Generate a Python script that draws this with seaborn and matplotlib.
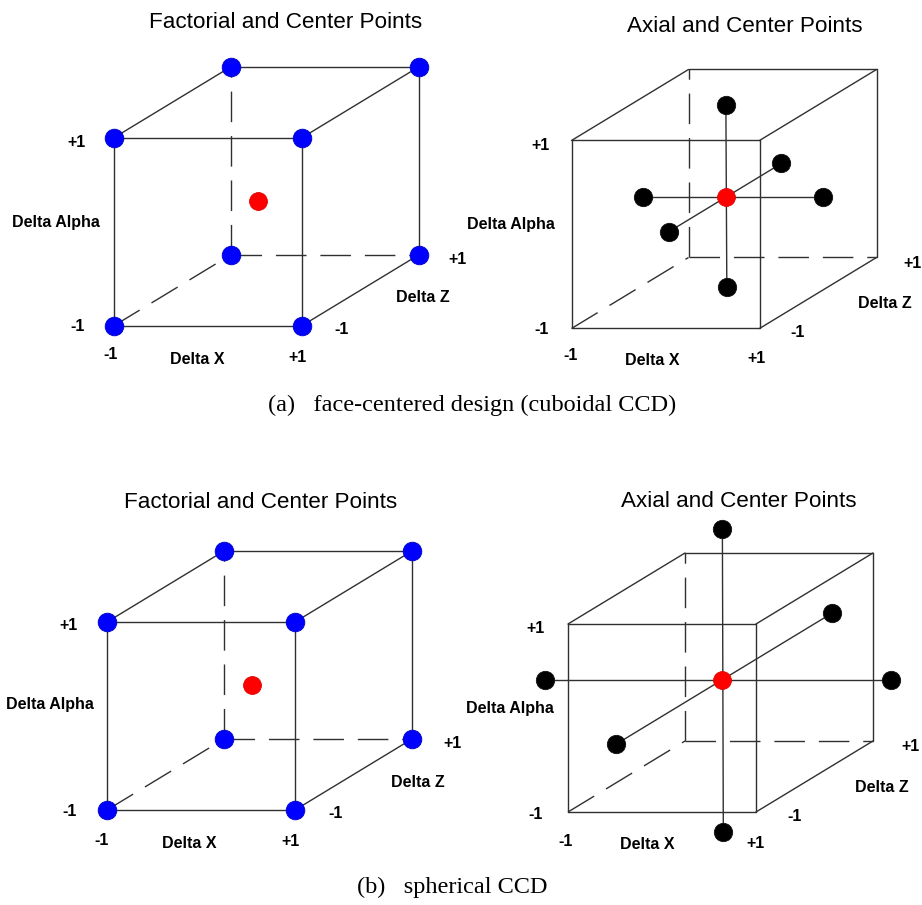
import numpy as np
import pandas as pd
import matplotlib
matplotlib.use("Agg")
import matplotlib.pyplot as plt
import seaborn as sns

# ---------------- data (coded units) ----------------
# cube corners (Delta X, Delta Alpha, Delta Z)
corner_x = [-1, 1, -1, 1, -1, 1, -1, 1]
corner_y = [-1, -1, 1, 1, -1, -1, 1, 1]
corner_z = [-1, -1, -1, -1, 1, 1, 1, 1]

# center point of factorial panels (as drawn)
fact_center_x = [-0.08]
fact_center_y = [-0.05]
fact_center_z = [0.0]

# (a) face-centered: axial points  [-x, +x, +alpha, -alpha, +z, -z]
axial_a_x = [-0.86, 1.05, 0.02, 0.03, 0.02, 0.02]
axial_a_y = [0.02, 0.02, 1.00, -0.94, 0.02, 0.02]
axial_a_z = [0.0, 0.0, 0.0, 0.0, 0.95, -0.97]
center_a = [0.02, 0.02, 0.0]

# (b) spherical: axial points  [-x, +x, +alpha, -alpha, +z, -z]
axial_b_x = [-1.87, 1.81, 0.02, 0.03, 0.02, 0.02]
axial_b_y = [0.03, 0.03, 1.63, -1.59, 0.03, 0.03]
axial_b_z = [0.0, 0.0, 0.0, 0.0, 1.88, -1.81]
center_b = [0.02, 0.03, 0.0]

titles = ["Factorial and Center Points", "Axial and Center Points"]
captions = ["(a)   face-centered design (cuboidal CCD)", "(b)   spherical CCD"]

# ---------------- style / layout ----------------
W, H, DPI = 922, 905, 100
S = 94.0                      # pixels per coded unit
KX, KY = 58.5 / S, 35.5 / S   # oblique projection of the depth axis
EDGE_C = "#303030"
LW = 1.0
DASH = (0, (22, 10))

sns.set_theme(style="white")
plt.rcParams["font.family"] = ["Liberation Sans", "DejaVu Sans"]

fig = plt.figure(figsize=(W / DPI, H / DPI), dpi=DPI)


def proj(x, y, z):
    x, y, z = np.asarray(x, float), np.asarray(y, float), np.asarray(z, float)
    return x + KX * z, y + KY * z


def make_ax(ox, oy):
    ax = fig.add_axes([0, 0, 1, 1])
    ax.set_xlim(-ox / S, (W - ox) / S)
    ax.set_ylim(-(H - oy) / S, oy / S)
    ax.axis("off")
    return ax


def draw_cube(ax):
    cx, cy, cz = corner_x, corner_y, corner_z
    for i in range(8):
        for j in range(i + 1, 8):
            diff = int(cx[i] != cx[j]) + int(cy[i] != cy[j]) + int(cz[i] != cz[j])
            if diff != 1:
                continue
            hidden = any(cx[k] == -1 and cy[k] == -1 and cz[k] == 1 for k in (i, j))
            px, py = proj([cx[i], cx[j]], [cy[i], cy[j]], [cz[i], cz[j]])
            ax.plot(px, py, color=EDGE_C, lw=LW,
                    linestyle=DASH if hidden else "-", zorder=1)


def draw_points(ax, x, y, z, color, size, ec):
    px, py = proj(x, y, z)
    df = pd.DataFrame({"px": px, "py": py})
    sns.scatterplot(data=df, x="px", y="py", ax=ax, color=color, marker="o",
                    s=size, edgecolor=ec, linewidth=0.6, zorder=3, legend=False)


def draw_axial(ax, ax_x, ax_y, ax_z, center):
    px, py = proj(ax_x, ax_y, ax_z)
    for a, b in [(0, 1), (2, 3), (4, 5)]:
        ax.plot([px[a], px[b]], [py[a], py[b]], color=EDGE_C, lw=LW, zorder=2)
    draw_points(ax, ax_x, ax_y, ax_z, "black", 175, "#111111")
    draw_points(ax, [center[0]], [center[1]], [center[2]], "#ff0000", 165, "#e00000")


# ---- panel 1: (a) factorial
ax1 = make_ax(266, 196.5)
draw_cube(ax1)
draw_points(ax1, corner_x, corner_y, corner_z, "#0000ff", 180, "#0000cc")
draw_points(ax1, fact_center_x, fact_center_y, fact_center_z, "#ff0000", 165, "#e00000")

# ---- panel 2: (a) axial
ax2 = make_ax(724, 199)
draw_cube(ax2)
draw_axial(ax2, axial_a_x, axial_a_y, axial_a_z, center_a)

# ---- panel 3: (b) factorial
ax3 = make_ax(259.5, 680.5)
draw_cube(ax3)
draw_points(ax3, corner_x, corner_y, corner_z, "#0000ff", 180, "#0000cc")
draw_points(ax3, fact_center_x, fact_center_y, fact_center_z, "#ff0000", 165, "#e00000")

# ---- panel 4: (b) axial
ax4 = make_ax(720.5, 682.5)
draw_cube(ax4)
draw_axial(ax4, axial_b_x, axial_b_y, axial_b_z, center_b)


# ---------------- text ----------------
def txt(x, y, s, size=11.5, weight="bold", ha="center", family=None, va="baseline"):
    kw = {}
    if family is not None:
        kw["family"] = family
    fig.text(x / W, 1 - y / H, s, fontsize=size, fontweight=weight, ha=ha, va=va,
             color="black", **kw)


def labels(pos):
    for (x, y, s) in pos:
        txt(x, y + 6, s)


labels([(76, 141, "+1"), (78, 325, "-1"), (56, 221, "Delta Alpha"),
        (111, 353, "-1"), (197, 358, "Delta X"), (297, 356, "+1"),
        (342, 328, "-1"), (423, 296, "Delta Z"), (457, 258, "+1")])
labels([(540, 144, "+1"), (542, 328, "-1"), (511, 223, "Delta Alpha"),
        (571, 354, "-1"), (652, 359, "Delta X"), (757, 357, "+1"),
        (798, 331, "-1"), (885, 302, "Delta Z"), (912, 262, "+1")])
labels([(68, 624, "+1"), (70, 810, "-1"), (50, 703, "Delta Alpha"),
        (102, 839, "-1"), (189, 842, "Delta X"), (290, 840, "+1"),
        (336, 812, "-1"), (418, 781, "Delta Z"), (452, 742, "+1")])
labels([(535, 627, "+1"), (536, 813, "-1"), (510, 707, "Delta Alpha"),
        (566, 840, "-1"), (647, 843, "Delta X"), (755, 842, "+1"),
        (795, 815, "-1"), (882, 786, "Delta Z"), (910, 745, "+1")])

txt(285.5, 28, titles[0], size=16.2, weight="normal")
txt(745, 31.5, titles[1], size=16.2, weight="normal")
txt(261, 508, titles[0], size=16.2, weight="normal")
txt(738.5, 507, titles[1], size=16.2, weight="normal")

txt(268, 411, captions[0], size=17.5, weight="normal", ha="left",
    family=["Liberation Serif", "DejaVu Serif"])
txt(357, 893, captions[1], size=17.5, weight="normal", ha="left",
    family=["Liberation Serif", "DejaVu Serif"])

fig.savefig("out.png", dpi=DPI, facecolor="white")
